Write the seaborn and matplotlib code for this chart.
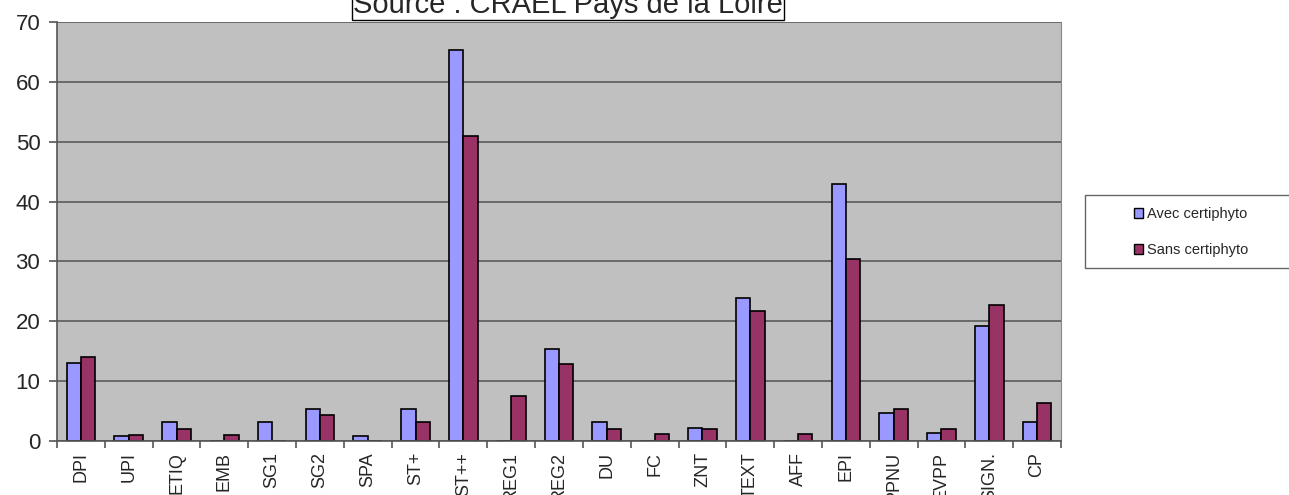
import pandas as pd
import matplotlib
matplotlib.use("Agg")
import matplotlib.pyplot as plt
import seaborn as sns
from matplotlib.ticker import MultipleLocator, FixedLocator

categories = ["DPI", "UPI", "ETIQ", "EMB", "SG1", "SG2", "SPA", "ST+", "ST++", "REG1", "REG2",
              "DU", "FC", "ZNT", "TEXT", "AFF", "EPI", "PPNU", "EVPP", "SIGN.", "CP"]
avec = [13.0, 0.8, 3.1, 0.0, 3.1, 5.3, 0.8, 5.3, 65.3, 0.0, 15.4,
        3.1, 0.0, 2.2, 23.9, 0.0, 43.0, 4.6, 1.4, 19.2, 3.1]
sans = [14.0, 1.0, 2.0, 1.0, 0.0, 4.3, 0.0, 3.2, 51.0, 7.6, 12.9,
        2.0, 1.1, 2.0, 21.8, 1.1, 30.4, 5.3, 2.0, 22.7, 6.4]
series = ["Avec certiphyto", "Sans certiphyto"]
colors = ["#9999FF", "#993366"]


def build_frame():
    rows = []
    for cat, a, s in zip(categories, avec, sans):
        rows.append({"cat": cat, "serie": series[0], "val": a})
        rows.append({"cat": cat, "serie": series[1], "val": s})
    return pd.DataFrame(rows)


def main():
    sns.set_style("white")
    plt.rcParams["font.family"] = ["Liberation Sans", "DejaVu Sans"]
    df = build_frame()

    W, H = 1289, 495
    fig = plt.figure(figsize=(W / 100, H / 100), dpi=100)
    ax = fig.add_axes([57 / W, 54 / H, 1004 / W, 419 / H])
    ax.set_facecolor("#C0C0C0")

    sns.barplot(data=df, x="cat", y="val", hue="serie", order=categories,
                hue_order=series, palette=colors, width=0.6, gap=0,
                edgecolor="black", linewidth=1.2, saturation=1, ax=ax)

    ax.set_ylim(0, 70)
    ax.set_xlim(-0.5, len(categories) - 0.5)
    ax.yaxis.set_major_locator(MultipleLocator(10))
    ax.yaxis.grid(True, color="#5a5a5a", linewidth=1.2)
    ax.set_axisbelow(True)
    ax.set_xlabel("")
    ax.set_ylabel("")

    ax.tick_params(axis="x", which="major", length=0, labelsize=13, labelrotation=90, pad=8)
    ax.xaxis.set_minor_locator(FixedLocator([i - 0.5 for i in range(len(categories) + 1)]))
    ax.tick_params(axis="x", which="minor", length=5, color="#555555", width=1.2, bottom=True)
    ax.tick_params(axis="y", length=6, color="#555555", width=1.2, labelsize=16, left=True, pad=6)
    for side in ["left", "bottom"]:
        ax.spines[side].set_color("#555555")
        ax.spines[side].set_linewidth(1.2)
    ax.spines["top"].set_visible(False)
    ax.spines["right"].set_color("#888888")

    ax.legend_.remove()
    # legend box runs off the right edge, as in the original
    fig.add_artist(plt.Rectangle((1085 / W, 1 - 268 / H), 230 / W, 73 / H,
                                 transform=fig.transFigure, facecolor="white",
                                 edgecolor="#666666", linewidth=1.0))
    handles = [plt.Rectangle((0, 0), 1, 1, facecolor=c, edgecolor="black") for c in colors]
    fig.legend(handles, series, loc="upper left", bbox_to_anchor=(1134 / W, 1 - 207 / H),
               frameon=False, fontsize=10.5, handlelength=0.65, handleheight=0.65,
               handletextpad=0.25, labelspacing=1.5, borderpad=0, borderaxespad=0)

    fig.text(568 / W, 1 - 13 / H, "Source : CRAEL Pays de la Loire", ha="center",
             va="baseline", fontsize=21,
             bbox=dict(boxstyle="square,pad=0.05", facecolor="white", edgecolor="black"))

    fig.savefig("out.png", dpi=100)


if __name__ == "__main__":
    main()
